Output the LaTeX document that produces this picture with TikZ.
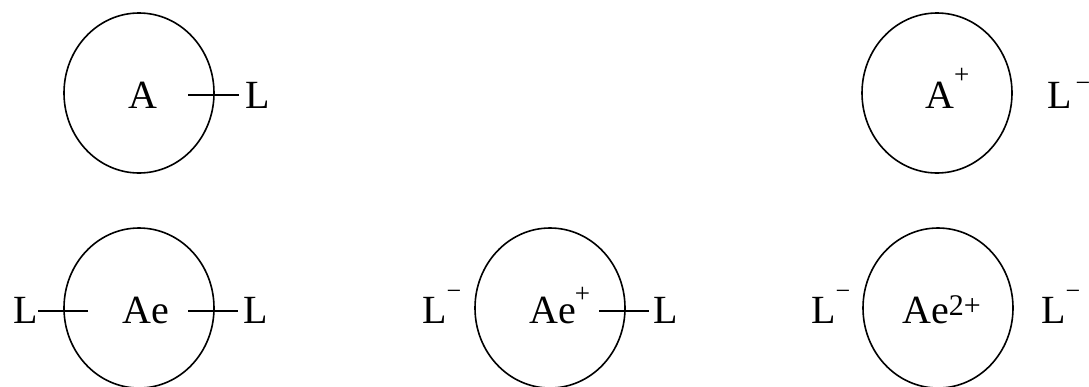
\documentclass[tikz,border=0pt]{standalone}
\usepackage{fontspec}
\setmainfont{Liberation Serif}
\usetikzlibrary{shapes.geometric}

\tikzset{
  ion/.style={draw,ellipse,line width=1.6pt,minimum width=150pt,minimum height=160pt,inner sep=0pt},
  lbl/.style={font=\fontsize{40}{40}\selectfont,inner sep=0pt,anchor=base west},
  bond/.style={line width=1.6pt},
}
\newcommand{\ionplus}[1]{\raisebox{#1}{\fontsize{27}{27}\selectfont +}}
\newcommand{\ionminus}[1]{\raisebox{#1}{\fontsize{26}{26}\selectfont −}}

\begin{document}
\begin{tikzpicture}[x=1pt,y=-1pt]
  \useasboundingbox (0,0) rectangle (1089,386);

  % --- Top row: neutral atom and ion pair ---
  \node[ion] (atomA) at (139,93) {};
  \node[lbl] (symA) at (128,108) {A};
  \node[lbl] (ligA) at (245,108) {L};
  \coordinate (bA) at (188,95);
  \draw[bond,shorten >=6pt] (bA) -- (bA -| ligA.west);

  \node[ion] (atomAp) at (937,93) {};
  \node[lbl] (symAp) at (925,108) {A\ionplus{25pt}};
  \node[lbl] (ligAp) at (1047,108) {L\kern4pt\ionminus{17pt}};

  % --- Bottom row: Ae with two ligands ---
  \node[ion] (atomAe) at (139,308) {};
  \node[lbl] (symAe) at (122,323) {Ae};
  \node[lbl] (ligAeL) at (13,323) {L};
  \node[lbl] (ligAeR) at (243,323) {L};
  \coordinate (bAeL) at (88,311);
  \coordinate (bAeR) at (188,311);
  \draw[bond] (bAeL) -- (bAeL -| ligAeL.east);
  \draw[bond,shorten >=5pt] (bAeR) -- (bAeR -| ligAeR.west);

  % Ae+ with one ligand left
  \node[ion] (atomAep) at (550,308) {};
  \node[lbl] (symAep) at (529,323) {Ae\kern-1pt\ionplus{21pt}};
  \node[lbl] (ligAepL) at (422,323) {L\ionminus{24pt}};
  \node[lbl] (ligAepR) at (653,323) {L};
  \coordinate (bAep) at (599,311);
  \draw[bond,shorten >=4pt] (bAep) -- (bAep -| ligAepR.west);

  % Ae2+ with two free anions
  \node[ion] (atomAepp) at (938,308) {};
  \node[lbl] (symAepp) at (902,323) {Ae\raisebox{8pt}{\fontsize{30}{30}\selectfont 2+}};
  \node[lbl] (ligAeppL) at (811,323) {L\ionminus{24pt}};
  \node[lbl] (ligAeppR) at (1041,323) {L\ionminus{24pt}};
\end{tikzpicture}
\end{document}
